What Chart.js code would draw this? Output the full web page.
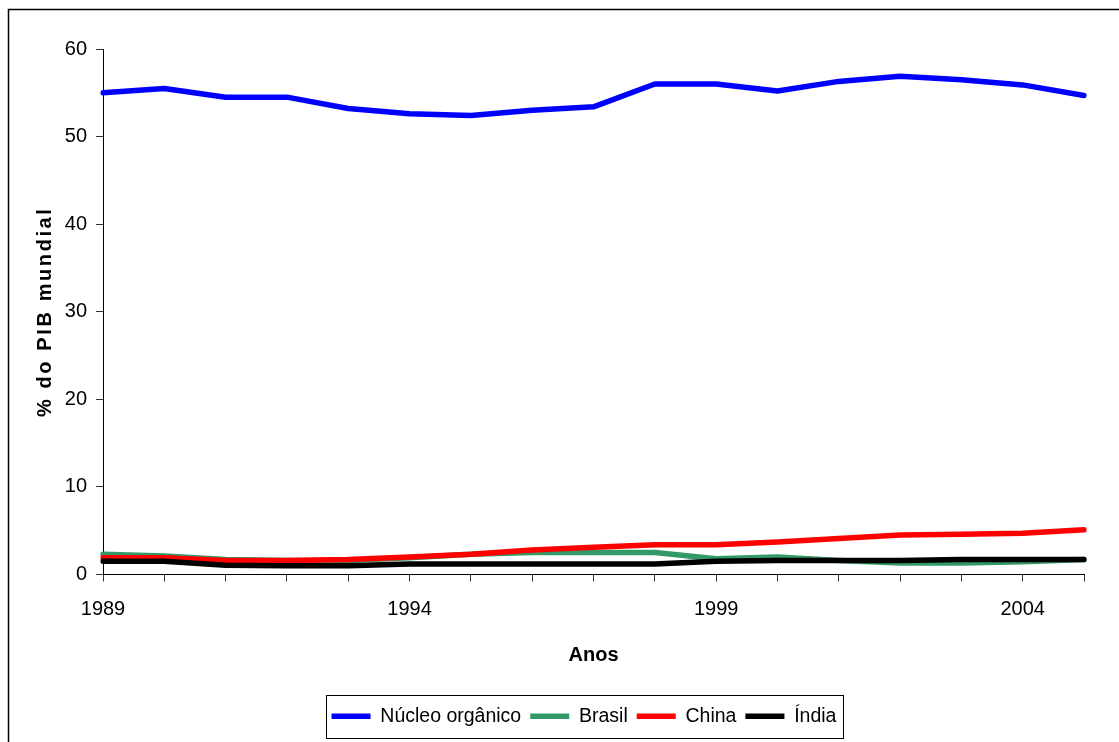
<!DOCTYPE html>
<html>
<head>
<meta charset="utf-8">
<script src="https://cdn.jsdelivr.net/npm/chart.js"></script>
<style>
  html, body { margin: 0; padding: 0; background: #fff; }
  #wrap { width: 1119px; height: 742px; position: relative; }
</style>
</head>
<body>
<div id="wrap"><canvas id="chart"></canvas></div>
<script>
// values
const years = ['1989','1990','1991','1992','1993','1994','1995','1996','1997',
               '1998','1999','2000','2001','2002','2003','2004','2005'];
const labeledYears = ['1989','1994','1999','2004'];

const nucleo = [55.0, 55.5, 54.5, 54.5, 53.2, 52.6, 52.4, 53.0, 53.4, 56.0, 56.0, 55.2, 56.3, 56.9, 56.5, 55.9, 54.7];
const brasil = [2.3, 2.1, 1.7, 1.6, 1.6, 1.9, 2.3, 2.5, 2.5, 2.5, 1.8, 2.0, 1.6, 1.3, 1.3, 1.45, 1.7];
const china  = [1.9, 1.9, 1.6, 1.6, 1.7, 2.0, 2.3, 2.8, 3.1, 3.4, 3.4, 3.7, 4.1, 4.5, 4.6, 4.7, 5.1];
const india  = [1.5, 1.5, 1.05, 1.0, 1.0, 1.2, 1.2, 1.2, 1.2, 1.2, 1.5, 1.6, 1.6, 1.6, 1.7, 1.7, 1.7];

const FONT = '"Liberation Sans", Arial, sans-serif';
const LEGEND_SHIFT = 37; // legend sits a bit right of centre in the reference

// legend is centred on the picture by default, push it over
const legendShift = {
  id: 'legendShift',
  afterUpdate(chart) {
    const lg = chart.legend;
    lg.left += LEGEND_SHIFT;
    lg.right += LEGEND_SHIFT;
    (lg.legendHitBoxes || []).forEach(b => { b.left += LEGEND_SHIFT; });
  }
};

// thin frame around the picture, and the box around the legend
const framePlugin = {
  id: 'frame',
  afterDraw(chart) {
    const ctx = chart.ctx;
    ctx.save();
    ctx.strokeStyle = '#000';
    ctx.lineWidth = 1.5;
    ctx.beginPath();
    ctx.moveTo(8.5, 742);
    ctx.lineTo(8.5, 9.5);
    ctx.lineTo(1119, 9.5);
    ctx.stroke();

    const boxes = chart.legend.legendHitBoxes;
    if (boxes && boxes.length) {
      const left = Math.min(...boxes.map(b => b.left)) - 6;
      const right = Math.max(...boxes.map(b => b.left + b.width)) + 6;
      const mid = boxes[0].top + boxes[0].height / 2;
      ctx.lineWidth = 1;
      ctx.strokeRect(Math.round(left) + 0.5, Math.round(mid - 21.5) + 0.5,
                     Math.round(right - left), 43);
    }
    ctx.restore();
  }
};

// y title in the reference is letter-spaced
const spacedTitle = {
  id: 'spacedTitle',
  beforeDraw(chart) {
    const y = chart.scales.y;
    if (y._spaced) return;
    const orig = y.drawTitle;
    y.drawTitle = function () {
      this.ctx.letterSpacing = '2.6px';
      orig.call(this);
      this.ctx.letterSpacing = '0px';
    };
    y._spaced = true;
  }
};

const line = (label, data, color, order) => ({
  label, data, order,
  borderColor: color,
  backgroundColor: color,
  borderWidth: 5.5,
  pointRadius: 0,
  tension: 0,
  borderJoinStyle: 'round',
  borderCapStyle: 'round'
});

new Chart(document.getElementById('chart'), {
  type: 'line',
  data: {
    labels: years,
    datasets: [
      line('Núcleo orgânico', nucleo, '#0000FF', 4),
      line('Brasil', brasil, '#339966', 3),
      line('China', china, '#FF0000', 2),
      line('Índia', india, '#000000', 1)
    ]
  },
  options: {
    responsive: true,
    maintainAspectRatio: false,
    animation: false,
    layout: { padding: { left: 10, right: 35, top: 49, bottom: 6 } },
    plugins: {
      tooltip: { enabled: false },
      legend: {
        position: 'bottom',
        labels: {
          usePointStyle: true,
          pointStyle: 'line',
          pointStyleWidth: 39,
          boxHeight: 5,
          padding: 9,
          color: '#000',
          font: { family: FONT, size: 19.5 },
          sort: (a, b) => a.datasetIndex - b.datasetIndex
        }
      }
    },
    scales: {
      x: {
        type: 'category',
        offset: false,
        afterFit: s => { s.height = 123; },
        grid: {
          offset: false,
          drawOnChartArea: false,
          drawTicks: true,
          tickLength: 7,
          color: '#333'
        },
        border: { display: true, color: '#000', width: 1 },
        ticks: {
          autoSkip: false,
          maxRotation: 0,
          padding: 16,
          color: '#000',
          font: { family: FONT, size: 20 },
          callback: function (v) {
            const lab = this.getLabelForValue(v);
            return labeledYears.includes(lab) ? lab : '';
          }
        },
        title: {
          display: true,
          text: 'Anos',
          color: '#000',
          font: { family: FONT, size: 20, weight: 'bold' },
          padding: { top: 16, bottom: 30 }
        }
      },
      y: {
        min: 0,
        max: 60,
        afterFit: s => { s.width = 93; },
        grid: {
          drawOnChartArea: false,
          drawTicks: true,
          tickLength: 7,
          color: '#333'
        },
        border: { display: true, color: '#000', width: 1 },
        ticks: {
          stepSize: 10,
          padding: 9,
          color: '#000',
          font: { family: FONT, size: 20 }
        },
        title: {
          display: true,
          text: '% do PIB mundial',
          color: '#000',
          font: { family: FONT, size: 20, weight: 'bold' },
          padding: { top: 23, bottom: 0 }
        }
      }
    }
  },
  plugins: [legendShift, framePlugin, spacedTitle]
});
</script>
</body>
</html>
